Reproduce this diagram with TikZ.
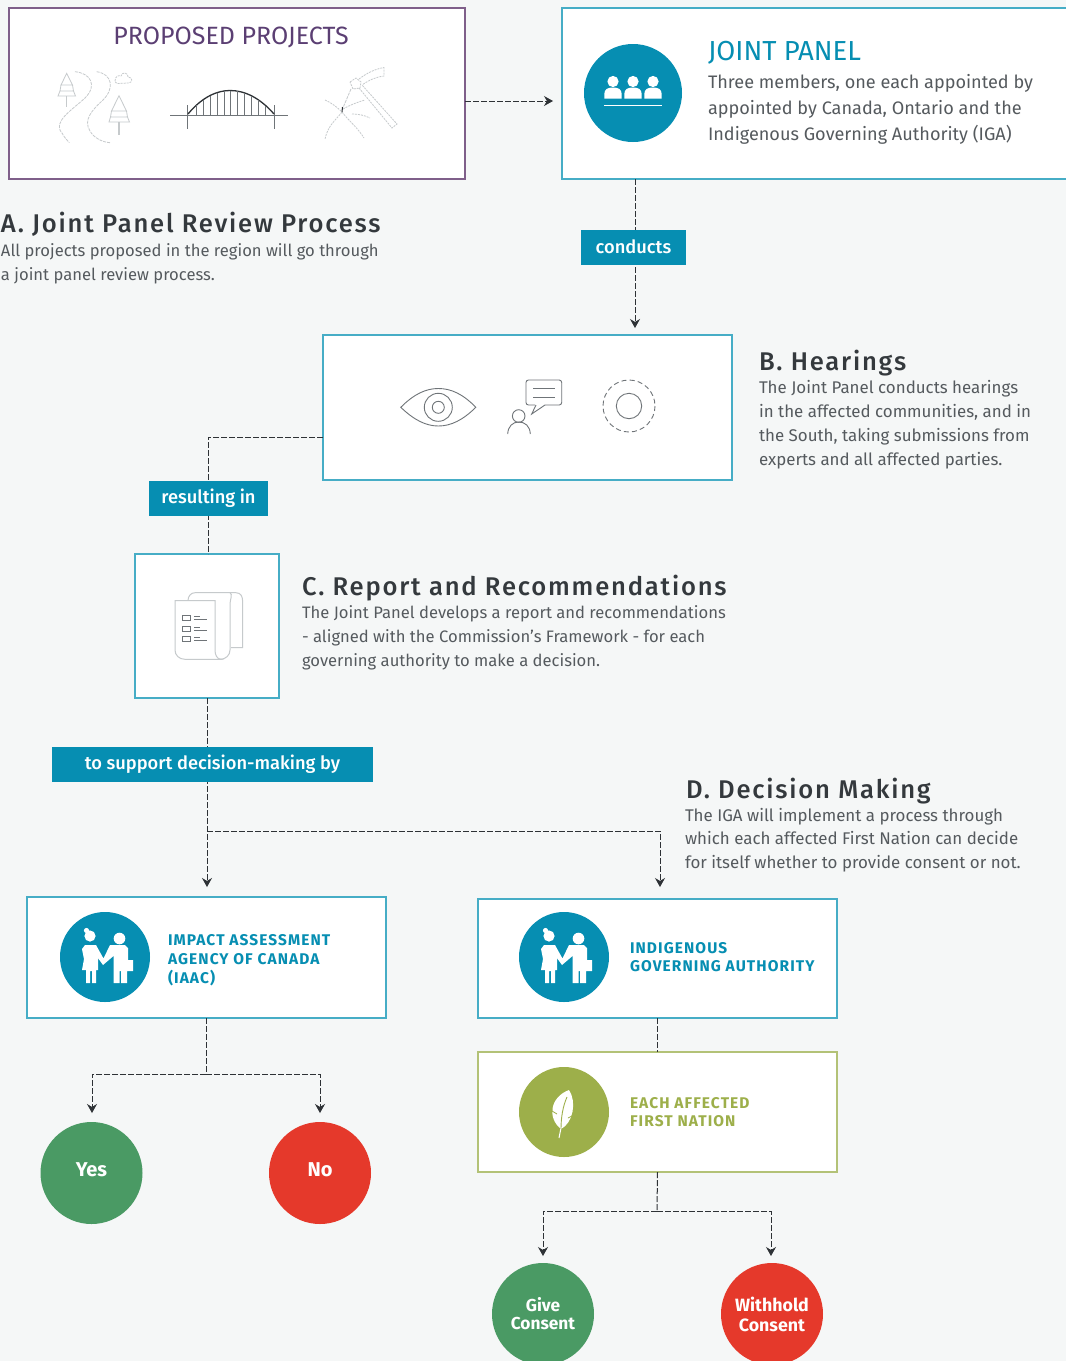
\documentclass[tikz,border=0pt]{standalone}
\usepackage{fontspec}
\setmainfont{Fira Sans}
\newfontfamily\medfont{Fira Sans Medium}
\newfontfamily\headfont[LetterSpace=7]{Fira Sans Medium}
\newfontfamily\capsfont[LetterSpace=7]{Fira Sans Bold}
\usetikzlibrary{arrows.meta,calc}
\definecolor{bgc}{HTML}{F5F7F7}
\definecolor{teal}{HTML}{068EB2}
\definecolor{tealline}{HTML}{46ADC6}
\definecolor{purpleline}{HTML}{7F5F8A}
\definecolor{purpletext}{HTML}{5B3F73}
\definecolor{olive}{HTML}{9DAF4A}
\definecolor{oliveline}{HTML}{B3C277}
\definecolor{okgreen}{HTML}{4A9A64}
\definecolor{nored}{HTML}{E5392B}
\definecolor{body}{HTML}{555A5E}
\definecolor{head}{HTML}{34393D}
\definecolor{wire}{HTML}{2E3236}
\definecolor{iconc}{HTML}{6F7478}
\definecolor{pale}{HTML}{C6CACC}
\tikzset{
  every node/.style={inner sep=0pt,outer sep=0pt},
  tealbox/.style={draw=tealline,fill=white,line width=1.3pt},
  purplebox/.style={draw=purpleline,fill=white,line width=1.3pt},
  olivebox/.style={draw=oliveline,fill=white,line width=1.3pt},
  tagbox/.style={fill=teal,text=white,font=\medfont\fontsize{18.3}{22}\selectfont},
  disc/.style={circle,fill=#1,minimum size=90pt},
  verdict/.style={circle,fill=#1,minimum size=102pt,text=white,align=center},
  heading/.style={anchor=base west,text=head,font=\headfont\fontsize{25.6}{28}\selectfont},
  para/.style={anchor=north west,align=left,text=body,font=\fontsize{16.6}{23.7}\selectfont},
  caps/.style={anchor=west,align=left,font=\capsfont\fontsize{15.5}{18}\selectfont},
  wireline/.style={draw=wire,line width=1pt,dash pattern=on 6pt off 2pt},
  wirearrow/.style={wireline,-{Stealth[length=9pt,width=10pt]}},
  handshake/.pic={
    \fill[white] (-15,-21) circle (5.6);
    \fill[white] (-18.5,-26.5) circle (2.6);
    \fill[white] (14.5,-18.5) circle (5.8);
    \fill[white] (-20,-12) -- (-9,-12) -- (-1.5,1.5) -- (5,-12) -- (20,-12) -- (23,-9) -- (23,3) -- (28,3) -- (28,14) -- (22,14) -- (22,26) -- (16,26) -- (16,14) -- (14.5,14) -- (14.5,26) -- (8.5,26) -- (8.5,-1) -- (-2,8) -- (-7,1) -- (-7,13) -- (-9,13) -- (-9,26) -- (-13,26) -- (-13,14) -- (-15,14) -- (-15,26) -- (-19,26) -- (-19,13) -- (-23,13) -- (-21,2) -- (-23,-8) -- cycle;
  }
}
\begin{document}
\begin{tikzpicture}[x=1pt,y=-1pt]
\useasboundingbox (0,0) rectangle (1066,1361);
\clip (0,0) rectangle (1066,1361);
\fill[bgc] (0,0) rectangle (1066,1361);

% ---- boxes
\node[purplebox,minimum width=456pt,minimum height=171pt] (proj) at (237,93.5) {};
\node[tealbox,minimum width=514pt,minimum height=171pt] (panel) at (819,93.5) {};
\node[tealbox,minimum width=409pt,minimum height=145pt] (hear) at (527.5,407.5) {};
\node[tealbox,minimum width=144pt,minimum height=144pt] (rep) at (207,626) {};
\node[tealbox,minimum width=359pt,minimum height=121pt] (iaac) at (206.5,957.5) {};
\node[tealbox,minimum width=359pt,minimum height=119pt] (iga) at (657.5,958.5) {};
\node[olivebox,minimum width=359pt,minimum height=120pt] (fn) at (657.5,1112) {};

% ---- outcome circles
\node[verdict=okgreen,font=\bfseries\fontsize{20}{24}\selectfont] (yes) at (91.5,1173) {\raisebox{6pt}{Yes}};
\node[verdict=nored,font=\bfseries\fontsize{20}{24}\selectfont] (no) at (320,1173) {\raisebox{6pt}{No}};
\node[verdict=okgreen,font=\bfseries\fontsize{17.3}{18}\selectfont] (give) at (543,1314) {\raisebox{2pt}{Give}\\\raisebox{2pt}{Consent}};
\node[verdict=nored,font=\bfseries\fontsize{17.8}{20}\selectfont] (withhold) at (772,1314) {Withhold\\Consent};

% ---- coordinates for connector ends and bends
\coordinate (arrA) at (553,101);
\coordinate (arrAs) at (465,101);
\coordinate (arrB) at (635,328);
\coordinate (bendC) at (208,437);
\coordinate (arrD) at (207,887);
\coordinate (forkD) at (207,831);
\coordinate (arrE) at (660,887);
\coordinate (forkI) at (206,1074);
\coordinate (arrY) at (92,1113);
\coordinate (arrN) at (320,1113);
\coordinate (forkF) at (657,1211);
\coordinate (arrG) at (543,1256);
\coordinate (arrW) at (771,1256);

% ---- connectors
\draw[wirearrow] (proj.east |- arrAs) -- (arrA);
\draw[wirearrow] (panel.south -| arrB) -- (arrB);
\draw[wireline] (hear.west |- bendC) -- (bendC) -- (bendC |- rep.north);
\draw[wirearrow] (rep.south -| arrD) -- (arrD);
\draw[wirearrow] (forkD) -- (forkD -| arrE) -- (arrE);
\draw[wireline] (iaac.south -| forkI) -- (forkI);
\draw[wirearrow] (forkI) -- (forkI -| arrY) -- (arrY);
\draw[wirearrow] (forkI) -- (forkI -| arrN) -- (arrN);
\draw[wireline] (iga.south) -- (fn.north);
\draw[wireline] (fn.south) -- (forkF);
\draw[wirearrow] (forkF) -- (forkF -| arrG) -- (arrG);
\draw[wirearrow] (forkF) -- (forkF -| arrW) -- (arrW);

% ---- connector tags
\node[tagbox,minimum width=105pt,minimum height=35pt] (tagA) at (633.5,247.5) {\raisebox{1pt}{conducts}};
\node[tagbox,minimum width=119pt,minimum height=35pt] (tagB) at (208.5,498.5) {resulting in};
\node[tagbox,minimum width=321pt,minimum height=35pt] (tagC) at (212.5,764.5) {to support decision-making by};

% ---- texts
\node[anchor=base,text=purpletext,font=\fontsize{25}{29}\selectfont] (projT) at (231,44) {PROPOSED PROJECTS};
\node[anchor=base west,text=teal,font=\fontsize{27.5}{31}\selectfont] (panelT) at (708,60) {JOINT PANEL};
\node[para,font=\fontsize{18.1}{26.2}\selectfont] (panelP) at (708,74) {Three members, one each appointed by\\appointed by Canada, Ontario and the\\Indigenous Governing Authority (IGA)};
\node[heading] (aT) at (1,232) {A. Joint Panel Review Process};
\node[para] (aP) at (1,243.5) {All projects proposed in the region will go through\\a joint panel review process.};
\node[heading] (bT) at (759,370) {B. Hearings};
\node[para,font=\fontsize{16.9}{24}\selectfont] (bP) at (759,380) {The Joint Panel conducts hearings\\in the affected communities, and in\\the South, taking submissions from\\experts and all affected parties.};
\node[heading] (cT) at (302,595) {C. Report and Recommendations};
\node[para,font=\fontsize{16.6}{24}\selectfont] (cP) at (302,605.5) {The Joint Panel develops a report and recommendations\\- aligned with the Commission's Framework - for each\\governing authority to make a decision.};
\node[heading] (dT) at (686,798) {D. Decision Making};
\node[para,font=\fontsize{16.9}{23.5}\selectfont] (dP) at (685,808) {The IGA will implement a process through\\which each affected First Nation can decide\\for itself whether to provide consent or not.};
\node[caps,text=teal,font=\capsfont\fontsize{15.5}{19}\selectfont] (iaacT) at (168,960) {IMPACT ASSESSMENT\\AGENCY OF CANADA\\(IAAC)};
\node[caps,text=teal] (igaT) at (630,957) {INDIGENOUS\\GOVERNING AUTHORITY};
\node[caps,text=olive] (fnT) at (630,1112) {EACH AFFECTED\\FIRST NATION};

% ---- discs and their icons
\node[circle,fill=teal,minimum size=98pt] (panelD) at (633,93) {};
\begin{scope}[shift={(panelD.center)}]
  \foreach \q in {-20,0,20}{
    \fill[white] (\q,-11.5) circle (5.6);
    \fill[white] (\q-8.7,5.5) -- (\q-8.7,1) .. controls (\q-8.7,-4) and (\q-5,-5.5) .. (\q,-5.5) .. controls (\q+5,-5.5) and (\q+8.7,-4) .. (\q+8.7,1) -- (\q+8.7,5.5) -- cycle;
  }
  \draw[white,line width=1.2pt] (-29,12.3) -- (29,12.3);
\end{scope}
\node[disc=teal] (iaacD) at (105,957) {};
\pic at (iaacD.center) {handshake};
\node[disc=teal] (igaD) at (564,957) {};
\pic at (igaD.center) {handshake};
\node[disc=olive] (fnD) at (564,1112) {};
\begin{scope}[shift={(fnD.center)}]
  \fill[white] (-3,17) .. controls (-17,6) and (-14,-15) .. (5,-22) .. controls (13,-10) and (9,11) .. (-3,17) -- cycle;
  \draw[white,line width=1pt] (-3,16) -- (-5,26);
  \draw[olive,line width=.9pt] (-3,17) .. controls (-3,5) and (-1,-6) .. (3,-15);
  \draw[olive,line width=.8pt] (-12,-1) -- (-7,2);
  \draw[olive,line width=.8pt] (8,4) -- (4,6);
\end{scope}

% ---- project icons
\begin{scope}[draw=pale,line width=.8pt]
  \draw[dash pattern=on 3pt off 1pt] (75,71.7) .. controls (90,73) and (98,85) .. (85,98) .. controls (72,110) and (52,122) .. (62,133) .. controls (64,137) and (67,140) .. (69.3,142.7);
  \draw[dash pattern=on 3pt off 1pt] (96.7,71.7) .. controls (112,74) and (115,88) .. (103,100) .. controls (92,110) and (83,120) .. (90,131) .. controls (94,138) and (102,142) .. (110,142.7);
  \draw[dash pattern=on 2pt off 1pt] (115,81) .. controls (115,76) and (119,75) .. (121,76) .. controls (122,71) and (129,73) .. (128,77) .. controls (133,77) and (133,83) .. (128,83) -- (118,83.5) .. controls (116,83.5) and (115,82) .. (115,81) -- cycle;
  \draw (66.7,73.3) -- (61,85) -- (72.5,85) -- cycle;
  \draw (61,85) -- (60,91) -- (73.5,91) -- (72.5,85);
  \draw (60,91) -- (58,96) -- (75.5,96) -- (73.5,91);
  \draw (66.7,96) -- (66.7,107);
  \draw (119,95.7) -- (111.5,111) -- (126.5,111) -- cycle;
  \draw (111.5,111) -- (110.5,117) -- (127.5,117) -- (126.5,111);
  \draw (110.5,117) -- (109,122) -- (129.5,122) -- (127.5,117);
  \draw[line width=1.1pt] (119,122) -- (119,135);
\end{scope}
\begin{scope}[draw=iconc]
  \draw[line width=1.4pt] (170,115.3) -- (287.7,115.3);
  \draw[line width=1pt] (187,105) -- (187,129);
  \draw[line width=1pt] (274.3,105) -- (274.3,129);
  \draw[line width=1.3pt,draw=wire] (188,114) .. controls (203,96) and (218,90.5) .. (230,90.5) .. controls (245,90.5) and (260,98) .. (274,114);
  \foreach \hx/\hy in {196/105,203/100,210/95.5,217/92.5,224/91,230/90.5,237/91,244/92.5,251/96,258/100,265/106}{
    \draw[line width=.9pt] (\hx,\hy) -- (\hx,115);
  }
\end{scope}
\begin{scope}[draw=pale,line width=.8pt]
  \draw[dash pattern=on 2pt off 1pt] (350,82) -- (356,78) -- (361,82) -- (360,88) -- (353,89) -- cycle;
  \draw[dash pattern=on 2pt off 1pt] (359,79) .. controls (367,73) and (375,69) .. (384,67.5) -- (384,76) .. controls (376,77) and (369,80) .. (362,85);
  \draw[dash pattern=on 2pt off 1pt] (359,88) -- (392,128) -- (397,124) -- (362,85);
  \draw[dash pattern=on 3pt off 1pt] (351,89) -- (342,110);
  \draw[dash pattern=on 2pt off 1pt] (325,100) .. controls (332,103) and (338,108) .. (342,112) .. controls (336,120) and (328,125) .. (325,139);
  \draw[dash pattern=on 2pt off 1pt] (342,112) .. controls (348,120) and (358,128) .. (364,138);
  \draw[dash pattern=on 2pt off 1pt] (343,109) .. controls (350,105) and (358,102) .. (365,100);
  \draw[dash pattern=on 2pt off 1pt] (352,114) .. controls (358,114) and (364,115) .. (370,118);
  \draw[wire,line width=1pt] (342.5,107) -- (342,112);
\end{scope}

% ---- hearing icons
\begin{scope}[draw=iconc,line width=.9pt]
  \draw (400.8,407.3) .. controls (414,394) and (426,388.5) .. (438.3,388.5) .. controls (451,388.5) and (463,394) .. (475.8,407.3) .. controls (463,420) and (451,426) .. (438.3,426) .. controls (426,426) and (414,420) .. (400.8,407.3) -- cycle;
  \draw (438.3,407.3) circle (14);
  \draw (438.3,407.3) circle (6);
  \draw (518.7,416) circle (6.3);
  \draw (507.7,434) .. controls (508,426) and (513,422) .. (518.7,422) .. controls (525,422) and (530,426) .. (530.3,434);
  \draw[rounded corners=2.5pt] (535,405) -- (526,405) -- (526,380) -- (561.7,380) -- (561.7,405) -- (545,405);
  \draw (536,405) -- (531.7,414) -- (545,405);
  \draw (533,388.7) -- (555,388.7);
  \draw (533,397.3) -- (555,397.3);
  \draw[dash pattern=on 5pt off 3.2pt] (629,406) circle (26);
  \draw (629,406) circle (12.7);
\end{scope}

% ---- report icon
\begin{scope}[draw=pale,line width=1pt]
  \draw (188,600.7) .. controls (188,596) and (191,592.7) .. (195,592.7) -- (236,592.7) .. controls (241,592.7) and (242.5,597) .. (242.5,600) -- (242.5,647.5) -- (231,647.5);
  \draw (230,592.7) .. controls (233,594) and (230,600) .. (230,604) -- (230,650) .. controls (230,655) and (226,659.3) .. (220,659.3);
  \draw (175,600.7) -- (215,600.7) -- (215,650) .. controls (215,655) and (217,659) .. (221,659.3) -- (185,659.3) .. controls (179,659.3) and (175,655) .. (175,650) -- cycle;
  \foreach \cy in {618,629,639}{
    \draw[draw=iconc,line width=.7pt] (182.5,\cy-2.7) rectangle (190,\cy+2.7);
    \draw[draw=iconc,line width=.7pt] (194,\cy-2) -- (200,\cy-2);
    \draw[draw=iconc,line width=.7pt] (194,\cy+1) -- (207,\cy+1);
  }
\end{scope}
\end{tikzpicture}
\end{document}
